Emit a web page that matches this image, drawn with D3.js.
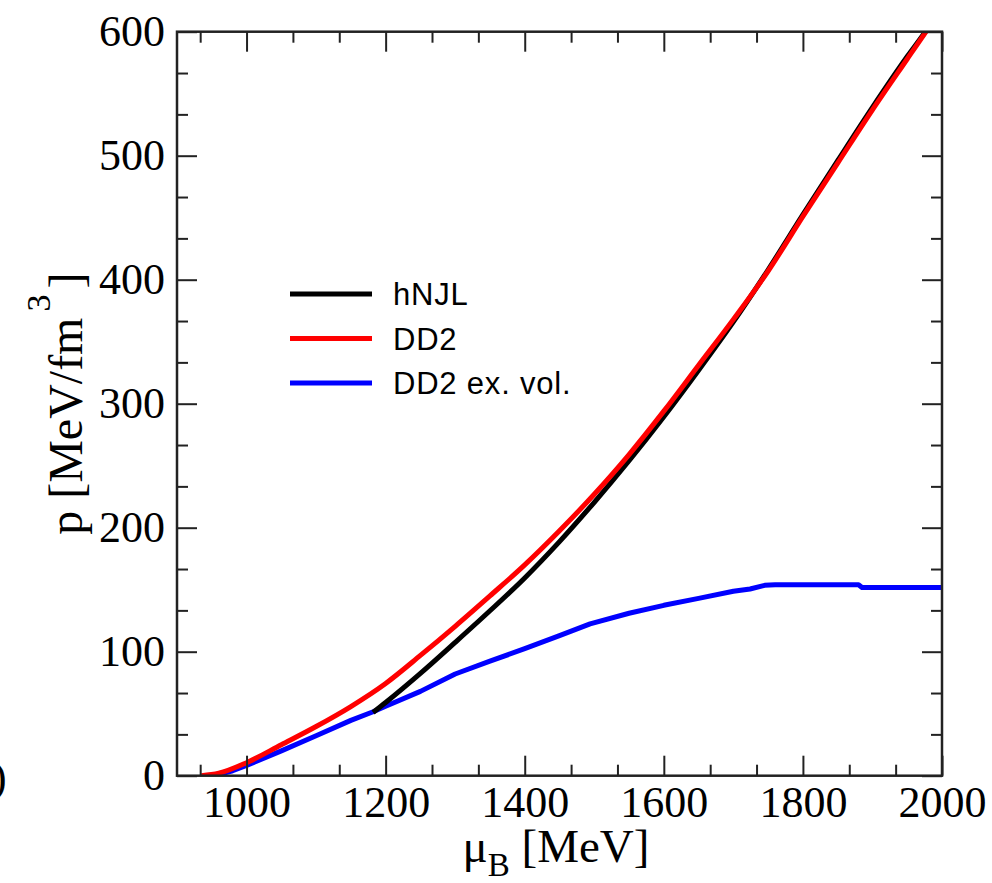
<!DOCTYPE html>
<html>
<head>
<meta charset="utf-8">
<script src="https://cdn.jsdelivr.net/npm/d3@7"></script>
<style>
  html, body { margin: 0; padding: 0; background: #fff; }
  svg { display: block; }
  .tick text { font-family: "Liberation Serif", "DejaVu Serif", serif; font-size: 44px; fill: #000; }
</style>
</head>
<body>
<svg id="chart" width="992" height="883"></svg>
<script>
// ---------------- data ----------------
const xMajorTicks = [1000, 1200, 1400, 1600, 1800, 2000];
const xMinorTicks = [933.33, 1066.67, 1133.33, 1266.67, 1333.33, 1466.67, 1533.33, 1666.67, 1733.33, 1866.67, 1933.33];
const yMajorTicks = [0, 100, 200, 300, 400, 500, 600];
const yMinorTicks = [33.33, 66.67, 133.33, 166.67, 233.33, 266.67, 333.33, 366.67, 433.33, 466.67, 533.33, 566.67];

const seriesNames = ["hNJL", "DD2", "DD2 ex. vol."];
const seriesColors = ["#000000", "#ff0000", "#0000ff"];

// hNJL
const muHNJL = [1182, 1200, 1250, 1300, 1350, 1400, 1450, 1500, 1550, 1600, 1650, 1700, 1750, 1800, 1850, 1900, 1950, 1976, 1990];
const pHNJL  = [51,   59,   82.5, 107.5, 133, 159.5, 188.8, 220.5, 254, 289.5, 327, 366, 408, 452.5, 496, 539, 580, 600, 612];

// DD2
const muDD2 = [935, 960, 1000, 1050, 1100, 1150, 1200, 1250, 1300, 1350, 1400, 1450, 1500, 1550, 1600, 1650, 1700, 1750, 1800, 1850, 1900, 1950, 1977, 1990];
const pDD2  = [0,   2,   10.5, 25,   39.7, 55.8, 74.4, 97,   120.5, 145, 170,  197.5, 227,  259,  294,  331,  368,  407,  451,  494,  537,  578,  600,  611];

// DD2 ex. vol.
const muDD2ex = [938, 957, 980, 1000, 1050, 1100, 1150, 1182, 1200, 1250, 1300, 1350, 1400, 1450, 1494, 1550, 1600, 1650, 1700, 1724, 1745, 1760, 1880, 1885, 2000];
const pDD2ex  = [0,   0.5, 4,   8.3,  20,   32.2, 44.6, 51.6, 56,   68,   82,   92.4, 102.4, 113, 122.5, 131, 137.4, 143, 148.7, 150.6, 153.5, 154, 154, 151.8, 151.8];

// ---------------- layout ----------------
const svg = d3.select("#chart");
const L = 177, R = 942, T = 31.7, B = 775.7;

const x = d3.scaleLinear().domain([900, 2000]).range([L, R]);
const y = d3.scaleLinear().domain([0, 600]).range([B, T]);

const serif = '"Liberation Serif", "DejaVu Serif", serif';
const sans = '"Liberation Sans", Arial, Helvetica, sans-serif';

// clip
svg.append("clipPath").attr("id", "plotclip")
  .append("rect").attr("x", L).attr("y", T).attr("width", R - L).attr("height", B - T);

// curves
const seriesData = [
  d3.zip(muHNJL, pHNJL),
  d3.zip(muDD2, pDD2),
  d3.zip(muDD2ex, pDD2ex)
];
const smoothLine = d3.line().x(d => x(d[0])).y(d => y(d[1])).curve(d3.curveMonotoneX);
const straightLine = d3.line().x(d => x(d[0])).y(d => y(d[1]));
const order = [2, 0, 1];
const gCurves = svg.append("g").attr("clip-path", "url(#plotclip)");
order.forEach(i => {
  gCurves.append("path")
    .datum(seriesData[i])
    .attr("d", i === 2 ? straightLine : smoothLine)
    .attr("fill", "none")
    .attr("stroke", seriesColors[i])
    .attr("stroke-width", 5)
    .attr("stroke-linejoin", "round")
    .attr("stroke-linecap", "butt");
});

function styleAxis(g) {
  g.select(".domain").remove();
  g.selectAll(".tick line").attr("stroke", "#222").attr("stroke-width", 2);
}

// bottom
svg.append("g").attr("transform", `translate(0,${B})`)
  .call(d3.axisBottom(x).tickValues(xMajorTicks).tickSize(-20).tickPadding(10).tickFormat(d3.format("d")))
  .call(styleAxis);
svg.append("g").attr("transform", `translate(0,${B})`)
  .call(d3.axisBottom(x).tickValues(xMinorTicks).tickSize(-11).tickFormat(""))
  .call(styleAxis);
// top
svg.append("g").attr("transform", `translate(0,${T})`)
  .call(d3.axisTop(x).tickValues(xMajorTicks).tickSize(-20).tickFormat(""))
  .call(styleAxis);
svg.append("g").attr("transform", `translate(0,${T})`)
  .call(d3.axisTop(x).tickValues(xMinorTicks).tickSize(-11).tickFormat(""))
  .call(styleAxis);
// left
svg.append("g").attr("transform", `translate(${L},0)`)
  .call(d3.axisLeft(y).tickValues(yMajorTicks).tickSize(-20).tickPadding(12).tickFormat(d3.format("d")))
  .call(styleAxis);
svg.append("g").attr("transform", `translate(${L},0)`)
  .call(d3.axisLeft(y).tickValues(yMinorTicks).tickSize(-11).tickFormat(""))
  .call(styleAxis);
// right
svg.append("g").attr("transform", `translate(${R},0)`)
  .call(d3.axisRight(y).tickValues(yMajorTicks).tickSize(-20).tickFormat(""))
  .call(styleAxis);
svg.append("g").attr("transform", `translate(${R},0)`)
  .call(d3.axisRight(y).tickValues(yMinorTicks).tickSize(-11).tickFormat(""))
  .call(styleAxis);

// frame
svg.append("rect")
  .attr("x", L).attr("y", T).attr("width", R - L).attr("height", B - T)
  .attr("fill", "none").attr("stroke", "#222").attr("stroke-width", 2.5);

// x label
const xl = svg.append("text")
  .attr("x", 556).attr("y", 862)
  .attr("text-anchor", "middle")
  .attr("font-family", serif).attr("font-size", 47).attr("fill", "#000");
xl.append("tspan").text("μ");
xl.append("tspan").attr("font-size", 33).attr("dy", 14).text("B");
xl.append("tspan").attr("dy", -14).text(" [MeV]");

// y label
const yl = svg.append("text")
  .attr("transform", `translate(82,${(T + B) / 2}) rotate(-90)`)
  .attr("text-anchor", "middle")
  .attr("font-family", serif).attr("font-size", 48).attr("fill", "#000");
yl.append("tspan").text("p [MeV/fm");
yl.append("tspan").attr("font-size", 34).attr("dy", -32).attr("dx", 6).text("3");
yl.append("tspan").attr("dy", 32).attr("dx", 6).text("]");

// partial panel label from neighbour at far left
svg.append("text")
  .attr("x", -8).attr("y", 792)
  .attr("font-family", serif).attr("font-size", 44).attr("fill", "#000")
  .text(")");

// legend
const legY = [294, 338.5, 383];
const legend = svg.append("g");
seriesNames.forEach((name, i) => {
  legend.append("line")
    .attr("x1", 290).attr("x2", 372)
    .attr("y1", legY[i]).attr("y2", legY[i])
    .attr("stroke", seriesColors[i]).attr("stroke-width", 5);
  legend.append("text")
    .attr("x", 393).attr("y", legY[i] + 11)
    .attr("font-family", sans).attr("font-size", 31).attr("letter-spacing", 0.8).attr("fill", "#000")
    .text(name);
});
</script>
</body>
</html>
